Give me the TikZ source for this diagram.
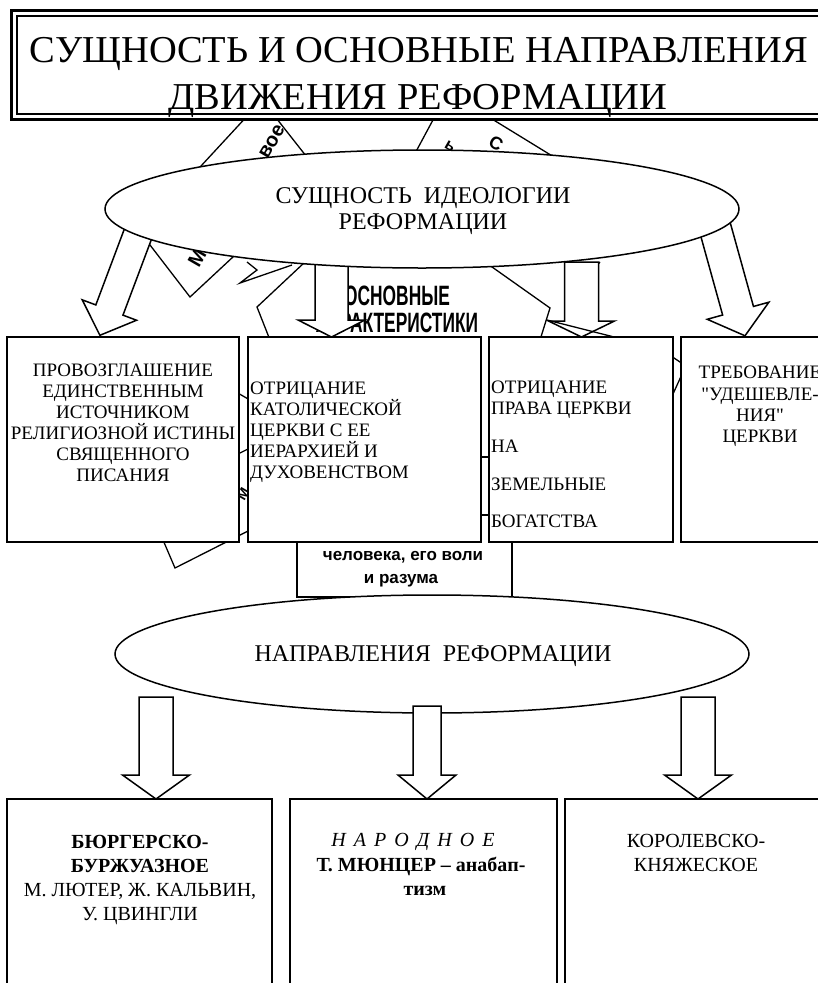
\documentclass[tikz,border=0pt]{standalone}
\usepackage{fontspec}
\setmainfont{Liberation Serif}
\setsansfont{Liberation Sans}
\usetikzlibrary{shapes.geometric}
\newcommand\fsz[1]{\fontsize{#1}{#1}\selectfont}
\newcommand\sq{{\XeTeXglyph\XeTeXcharglyph"22\relax}}
\newlength\tlw
\newcommand\barrow[8]{% name, top x, top y, angle, length, shaft width, head width, head length
  \begin{scope}[shift={(#2,#3)},rotate=#4]
    \draw[arr] (-#6/2,0) coordinate (#1top) -- (#6/2,0) -- (#6/2,#5-#8) -- (#7/2,#5-#8)
      -- (0,#5) coordinate (#1tip) -- (-#7/2,#5-#8) -- (-#6/2,#5-#8) -- cycle;
  \end{scope}}
\begin{document}
\settowidth\tlw{\fsz{38}СУЩНОСТЬ И ОСНОВНЫЕ НАПРАВЛЕНИЯ}%
\pgfmathsetmacro\tsx{778/\tlw}%
\begin{tikzpicture}[x=1pt,y=-1pt,
  box/.style={draw,line width=1.5pt,fill=white,inner sep=0pt,outer sep=0pt,anchor=north west},
  ell/.style={draw,ellipse,line width=1.5pt,fill=white,inner sep=0pt,minimum width=634pt,minimum height=118pt},
  arr/.style={draw,line width=1.5pt,fill=white,line join=miter},
  clut/.style={line width=1.3pt},
  tx/.style={inner sep=0pt,anchor=base,font=\fsz{19}},
  txl/.style={inner sep=0pt,anchor=base west,font=\fsz{19}},
  bt/.style={inner sep=0pt,anchor=base,font=\fsz{20}},
  et/.style={inner sep=0pt,anchor=base,font=\fsz{24}},
  st/.style={inner sep=0pt,font=\sffamily\bfseries\fsz{20}}]
\useasboundingbox (0,0) rectangle (818,983);
\clip (0,0) rectangle (818,983);

% ---------- hidden background shapes ----------
\draw[clut,fill=white] (262,100) -- (140,232) -- (190,297) -- (321,175) -- cycle;
\node[st,rotate=60] (cm) at (197,258) {М};
\node[st,rotate=60] (cv) at (272,142) {вое};
\draw[clut] (448,92) -- (405,172);
\draw[clut] (448,92) -- (580,173);
\node[st,rotate=-30,font=\sffamily\bfseries\fsz{16}] (cb1) at (452,147) {ь.};
\node[st,rotate=-30,font=\sffamily\bfseries\fsz{18}] (cb2) at (496,143) {С};
\draw[clut] (247,262) -- (257,270) -- (240,283) -- (292,265);
\draw[clut] (305,262) -- (257,307) -- (270,340);
\draw[clut] (485,262) -- (550,308) -- (540,340);
\draw[clut] (572,262) -- (582,270);
\draw[clut] (600,262) -- (593,270);
\node[inner sep=0pt,anchor=base] (osn1) at (397,305)
  {\scalebox{0.62}[1]{\sffamily\bfseries\fsz{28}ОСНОВНЫЕ}};
\node[inner sep=0pt,anchor=base] (osn2) at (397,332)
  {\scalebox{0.62}[1]{\sffamily\bfseries\fsz{28}ХАРАКТЕРИСТИКИ}};
\node[box,minimum width=215pt,minimum height=140pt] (hum) at (297,457) {};
\node[inner sep=0pt,anchor=base,font=\sffamily\bfseries\fsz{17}] (hum1) at (403,560) {человека, его воли};
\node[inner sep=0pt,anchor=base,font=\sffamily\bfseries\fsz{17}] (hum2) at (401,583) {и разума};
\draw[clut] (163,540) -- (175,568) -- (250,530);
\draw[clut] (480,515) -- (490,515);
\node[st,rotate=60,font=\sffamily\bfseries\fsz{14}] (cm2) at (243,494) {М};
\draw[clut] (236,392) -- (250,400);
\draw[clut] (236,455) -- (250,448);
\draw[clut] (671,356) -- (683,364);
\draw[clut] (673,394) -- (683,372);

% ---------- arrows from the upper ellipse ----------
\barrow{a1}{140}{228.6}{-20.6}{114}{29}{58}{27}
\barrow{a2}{331.5}{262}{0}{75}{33}{67}{17}
\barrow{a3}{581.5}{262}{0}{75}{34}{66}{16}
\barrow{a4}{714.8}{226.9}{15.5}{113}{32}{64}{26}
\draw[clut] (547,320) -- (618,338);

% ---------- upper ellipse ----------
\node[ell] (e1) at (422,209) {};
\node[et] (e1a) at (423,203) {СУЩНОСТЬ~~ИДЕОЛОГИИ};
\node[et] (e1b) at (423,229) {РЕФОРМАЦИИ};

% ---------- first row of boxes ----------
\node[box,minimum width=232pt,minimum height=205pt] (b1) at (7,337) {};
\node[box,minimum width=233pt,minimum height=205pt] (b2) at (248,337) {};
\node[box,minimum width=184pt,minimum height=205pt] (b3) at (489,337) {};
\node[box,minimum width=160pt,minimum height=205pt] (b4) at (681,337) {};

\node[tx] (b1l1) at (123,376) {ПРОВОЗГЛАШЕНИЕ};
\node[tx] (b1l2) at (123,397) {ЕДИНСТВЕННЫМ};
\node[tx] (b1l3) at (123,418) {ИСТОЧНИКОМ};
\node[tx] (b1l4) at (123,439) {РЕЛИГИОЗНОЙ ИСТИНЫ};
\node[tx] (b1l5) at (123,460) {СВЯЩЕННОГО};
\node[tx] (b1l6) at (123,481) {ПИСАНИЯ};

\node[txl] (b2l1) at (250,394) {ОТРИЦАНИЕ};
\node[txl] (b2l2) at (250,415) {КАТОЛИЧЕСКОЙ};
\node[txl] (b2l3) at (250,436) {ЦЕРКВИ С ЕЕ};
\node[txl] (b2l4) at (250,457) {ИЕРАРХИЕЙ И};
\node[txl] (b2l5) at (250,478) {ДУХОВЕНСТВОМ};

\node[txl] (b3l1) at (491,393) {ОТРИЦАНИЕ};
\node[txl] (b3l2) at (491,414) {ПРАВА ЦЕРКВИ};
\node[txl] (b3l3) at (491,452) {НА};
\node[txl] (b3l4) at (491,490) {ЗЕМЕЛЬНЫЕ};
\node[txl] (b3l5) at (491,527) {БОГАТСТВА};

\node[tx] (b4l1) at (760,378) {ТРЕБОВАНИЕ};
\node[tx] (b4l2) at (760,400) {\sq УДЕШЕВЛЕ-};
\node[tx] (b4l3) at (760,421) {НИЯ\sq};
\node[tx] (b4l4) at (760,442) {ЦЕРКВИ};

% ---------- lower ellipse ----------
\node[ell] (e2) at (432,654) {};
\node[et] (e2a) at (433,661) {НАПРАВЛЕНИЯ~~РЕФОРМАЦИИ};

\barrow{c1}{156}{697}{0}{102}{34}{67}{24}
\barrow{c2}{427}{706}{0}{93}{28}{58}{24}
\barrow{c3}{698}{697}{0}{102}{34}{67}{24}

% ---------- bottom boxes ----------
\node[box,minimum width=265pt,minimum height=200pt] (d1) at (7,799) {};
\node[box,minimum width=267pt,minimum height=200pt] (d2) at (290,799) {};
\node[box,minimum width=270pt,minimum height=200pt] (d3) at (565,799) {};

\node[bt] (d1l1) at (140,848) {\textbf{БЮРГЕРСКО-}};
\node[bt] (d1l2) at (140,872) {\textbf{БУРЖУАЗНОЕ}};
\node[bt] (d1l3) at (140,896) {М. ЛЮТЕР, Ж. КАЛЬВИН,};
\node[bt] (d1l4) at (140,920) {У. ЦВИНГЛИ};

\node[bt] (d2l1) at (413,846) {\textit{Н\kern8pt А\kern8pt Р\kern8pt О\kern8pt Д\kern8pt Н\kern8pt О\kern8pt Е}};
\node[bt] (d2l2) at (421,871) {\textbf{Т. МЮНЦЕР – анабап-}};
\node[bt] (d2l3) at (425,895) {\textbf{тизм}};

\node[bt] (d3l1) at (696,847) {КОРОЛЕВСКО-};
\node[bt] (d3l2) at (696,871) {КНЯЖЕСКОЕ};

% ---------- title ----------
\node[box,line width=3pt,minimum width=840pt,minimum height=109pt] (tout) at (11,10) {};
\node[box,line width=1.2pt,minimum width=830pt,minimum height=98pt] (tin) at (17,16) {};
\node[inner sep=0pt,anchor=base] (t1) at (419,62) {\scalebox{\tsx}[1]{\fsz{38}СУЩНОСТЬ И ОСНОВНЫЕ НАПРАВЛЕНИЯ}};
\node[inner sep=0pt,anchor=base] (t2) at (418,109) {\scalebox{\tsx}[1]{\fsz{38}ДВИЖЕНИЯ РЕФОРМАЦИИ}};
\end{tikzpicture}
\end{document}
